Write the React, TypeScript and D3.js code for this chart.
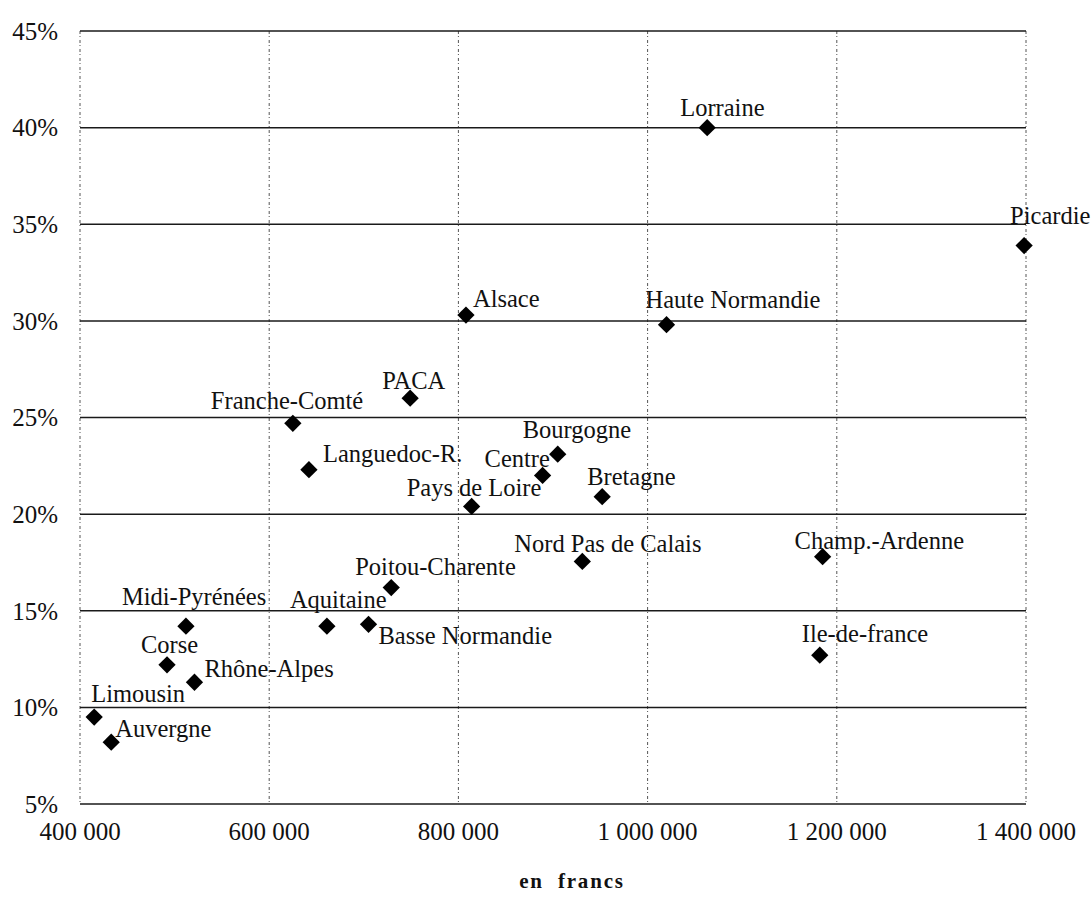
import React from 'react';
import * as d3 from 'd3';

// revenu moyen (francs) vs part (%) par région
const regions = [
  'Lorraine', 'Picardie', 'Alsace', 'Haute Normandie', 'PACA', 'Franche-Comté',
  'Languedoc-R.', 'Bourgogne', 'Centre', 'Bretagne', 'Pays de Loire', 'Nord Pas de Calais',
  'Champ.-Ardenne', 'Ile-de-france', 'Poitou-Charente', 'Midi-Pyrénées', 'Aquitaine',
  'Basse Normandie', 'Corse', 'Rhône-Alpes', 'Limousin', 'Auvergne',
];
const revenus = [
  1063000, 1398000, 808000, 1020000, 749000, 625000,
  642000, 905000, 889000, 952000, 814000, 931000,
  1185000, 1182000, 729000, 512000, 661000,
  705000, 492000, 521000, 415000, 433000,
];
const taux = [
  40.0, 33.9, 30.3, 29.8, 26.0, 24.7,
  22.3, 23.1, 22.0, 20.9, 20.4, 17.55,
  17.8, 12.7, 16.2, 14.2, 14.2,
  14.3, 12.2, 11.3, 9.5, 8.2,
];
const xTicks = [400000, 600000, 800000, 1000000, 1200000, 1400000];
const yTicks = [5, 10, 15, 20, 25, 30, 35, 40, 45];

// label placement: [dx, dy] from the marker to the text start/baseline
const labelOffsets: Record<string, [number, number]> = {
  'Lorraine': [-27, -12],
  'Picardie': [-14, -22],
  'Alsace': [7, -8],
  'Haute Normandie': [-21, -17],
  'PACA': [-28, -9],
  'Franche-Comté': [-82, -14],
  'Languedoc-R.': [14, -8],
  'Bourgogne': [-35, -16],
  'Centre': [-58, -8],
  'Bretagne': [-15, -12],
  'Pays de Loire': [-65, -10],
  'Nord Pas de Calais': [-68, -9],
  'Champ.-Ardenne': [-28, -8],
  'Ile-de-france': [-18, -13],
  'Poitou-Charente': [-36, -13],
  'Midi-Pyrénées': [-64, -21],
  'Aquitaine': [-37, -18],
  'Basse Normandie': [10, 20],
  'Corse': [-26, -12],
  'Rhône-Alpes': [10, -5],
  'Limousin': [-3, -15],
  'Auvergne': [4, -5],
};

const fmtFrancs = (v: number) => d3.format(',')(v).replace(/,/g, ' ');

export default function App() {
  const width = 1092;
  const height = 905;
  const font = '"Liberation Serif", "Times New Roman", serif';

  const x = d3.scaleLinear().domain([400000, 1400000]).range([80, 1026]);
  const y = d3.scaleLinear().domain([5, 45]).range([804, 31]);

  const points = regions.map((name, i) => ({ name, rev: revenus[i], pct: taux[i] }));
  const diamond = d3.symbol().type(d3.symbolDiamond2).size(190)();

  return (
    <svg width={width} height={height} style={{ position: 'absolute', left: 0, top: 0, background: '#fff' }}>
      {/* vertical dotted grid */}
      {xTicks.map(t => (
        <line key={'v' + t} x1={x(t)} x2={x(t)} y1={y(45)} y2={y(5)}
          stroke="#555" strokeWidth={1} strokeDasharray="3,2,1,3" />
      ))}
      {/* horizontal grid */}
      {yTicks.map(t => (
        <line key={'h' + t} x1={x(400000)} x2={x(1400000)} y1={y(t)} y2={y(t)}
          stroke="#1a1a1a" strokeWidth={1.5} />
      ))}
      {/* y tick labels */}
      {yTicks.map(t => (
        <text key={'yl' + t} x={58} y={y(t)} dy="0.35em" textAnchor="end"
          fontFamily={font} fontSize={25} fill="#111">{t}%</text>
      ))}
      {/* x tick labels */}
      {xTicks.map(t => (
        <text key={'xl' + t} x={x(t)} y={840} textAnchor="middle"
          fontFamily={font} fontSize={25} fill="#111">{fmtFrancs(t)}</text>
      ))}
      <text x={572} y={888} textAnchor="middle" fontFamily={font} fontSize={21}
        fontWeight="bold" letterSpacing={1.8} fill="#111" style={{ whiteSpace: 'pre' }}>
        {'en  francs'}
      </text>
      {/* markers */}
      {points.map(p => (
        <path key={'m' + p.name} d={diamond as string}
          transform={`translate(${x(p.rev)},${y(p.pct)})`} fill="#000" />
      ))}
      {/* labels */}
      {points.map(p => {
        const [dx, dy] = labelOffsets[p.name];
        return (
          <text key={'t' + p.name} x={x(p.rev) + dx} y={y(p.pct) + dy}
            fontFamily={font} fontSize={24.5} fill="#111">{p.name}</text>
        );
      })}
    </svg>
  );
}
